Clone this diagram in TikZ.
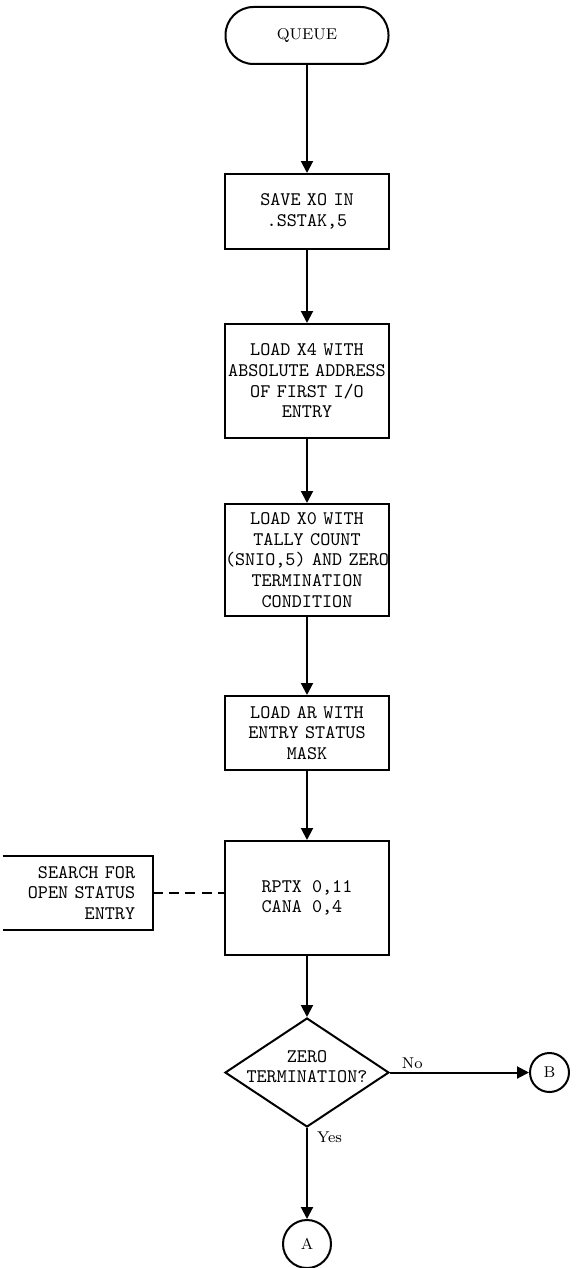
\documentclass[tikz,border=0pt]{standalone}
\usepackage{tikz}
\usetikzlibrary{arrows.meta,positioning,calc,shapes.geometric}
\newcommand{\boxfont}{\ttfamily\fontsize{9.6}{10.3}\selectfont}
\newcommand{\labelfont}{\rmfamily\fontsize{7.8}{9}\selectfont}
\tikzset{
  terminal/.style={rectangle,rounded corners=14pt,draw,line width=1pt,
    minimum width=81.5pt,minimum height=28.5pt,inner sep=0pt,font=\labelfont},
  process/.style={rectangle,draw,line width=1pt,text width=82pt,
    align=center,inner sep=0pt,font=\boxfont},
  codebox/.style={rectangle,draw,line width=1pt,minimum width=82pt,
    minimum height=57pt,align=left,inner sep=0pt,font=\boxfont},
  note/.style={rectangle,text width=57pt,align=right,inner xsep=9pt,
    inner ysep=0pt,minimum height=37pt,font=\boxfont},
  decision/.style={diamond,draw,line width=1pt,minimum width=82pt,
    minimum height=54.5pt,inner sep=0pt},
  question/.style={align=center,font=\boxfont,inner sep=0pt,yshift=3pt},
  offpage/.style={circle,draw,line width=1pt,inner sep=0pt,font=\labelfont},
  branch/.style={font=\labelfont,inner sep=1.5pt},
  arrow/.style={-{Triangle[length=6pt,width=6pt]},line width=1pt},
  annot/.style={line width=1pt,dash pattern=on 5pt off 3pt}
}

\begin{document}
\begin{tikzpicture}
  \node[terminal] (queue) {QUEUE};

  \node[process,minimum height=37.5pt,below=54pt of queue] (save)
    {SAVE XO IN\\.SSTAK,5};
  \node[process,minimum height=57pt,below=36.5pt of save] (loadxfour)
    {LOAD X4 WITH\\ABSOLUTE ADDRESS\\OF FIRST I/O\\ENTRY};
  \node[process,minimum height=56pt,below=32pt of loadxfour] (loadxzero)
    {LOAD X0 WITH\\TALLY COUNT\\(SNIO,5) AND ZERO\\TERMINATION\\CONDITION};
  \node[process,minimum height=37pt,below=39pt of loadxzero] (loadar)
    {LOAD AR WITH\\ENTRY STATUS\\MASK};
  \node[codebox,below=34.5pt of loadar] (rptx)
    {RPTX 0,11\\CANA 0,4};

  \node[note,left=35.25pt of rptx,yshift=2.5pt] (search)
    {SEARCH FOR\\OPEN STATUS\\ENTRY};

  \node[decision,below=30.5pt of rptx,
    label={[question]center:ZERO\\TERMINATION?}] (zeroterm) {};
  \node[offpage,minimum size=19.5pt,right=69.5pt of zeroterm] (pageB) {B};
  \node[offpage,minimum size=24pt,below=45.5pt of zeroterm] (pageA) {A};

  \draw[arrow] (queue) -- (save);
  \draw[arrow] (save) -- (loadxfour);
  \draw[arrow] (loadxfour) -- (loadxzero);
  \draw[arrow] (loadxzero) -- (loadar);
  \draw[arrow] (loadar) -- (rptx);
  \draw[arrow] (rptx) -- (zeroterm);
  \draw[arrow] (zeroterm) -- node[branch,above,pos=0.16] {No} (pageB);
  \draw[arrow] (zeroterm) -- node[branch,right=3pt,pos=0.1] {Yes} (pageA);

  \draw[line width=1pt] (search.north west) -- (search.north east)
    -- (search.south east) -- (search.south west);
  \draw[annot] (search.east) -- (search.east -| rptx.west);

  \pgfresetboundingbox
  \useasboundingbox ($(queue.north)+(-153.5pt,3pt)$) rectangle ++(288.5pt,-634pt);
\end{tikzpicture}
\end{document}
